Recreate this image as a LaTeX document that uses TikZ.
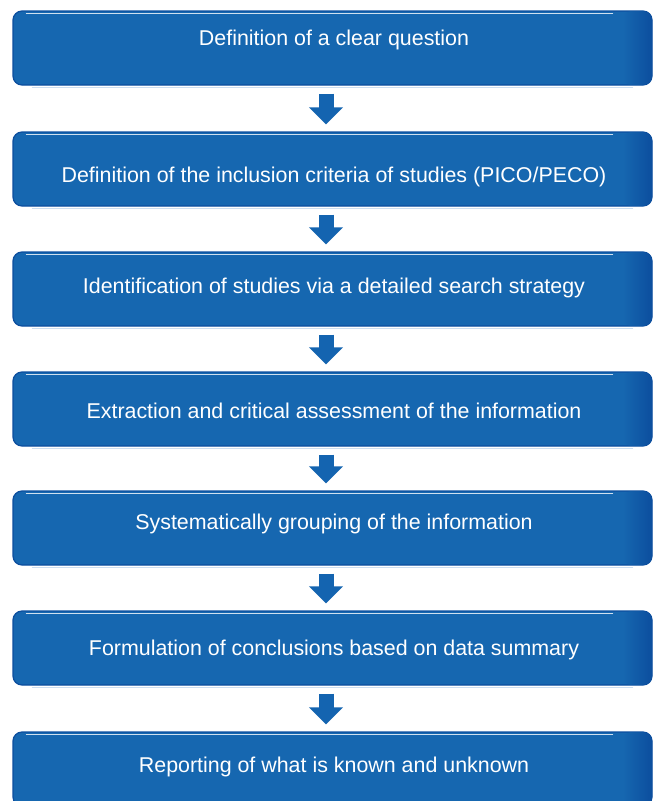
\documentclass[tikz,border=0pt]{standalone}
\usepackage{fontspec}
\setmainfont{Liberation Sans}
\usetikzlibrary{arrows.meta}
\definecolor{boxblue}{RGB}{22,103,176}
\definecolor{edgeblue}{RGB}{12,78,158}
\definecolor{arrowblue}{RGB}{20,100,176}
\definecolor{glowblue}{RGB}{170,200,230}
\tikzset{
  stepbox/.style={rounded corners=9pt, minimum width=639pt, minimum height=74pt,
    inner sep=0pt, fill=boxblue, draw=edgeblue, line width=1.2pt},
  steptext/.style={text=white, font=\fontsize{21.4}{25}\selectfont, inner sep=0pt, anchor=base},
  flow/.style={draw=arrowblue, line width=15pt,
    -{Triangle[width=33pt,length=17pt]}, shorten <=8pt, shorten >=7pt},
}
\newcommand{\gloss}[1]{%
  % darker rounded right end, fading in from the body colour
  \shade[left color=boxblue, right color=edgeblue, rounded corners=8pt]
    ([xshift=-30pt,yshift=-1pt]#1.north east) rectangle ([xshift=-0.6pt,yshift=1pt]#1.south east);
  % light rim along the top edge and a soft glow under the bottom edge
  \draw[white, opacity=0.8, line width=0.9pt, line cap=round]
    ([xshift=14pt,yshift=-3pt]#1.north west) -- ([xshift=-40pt,yshift=-3pt]#1.north east);
  \draw[glowblue, opacity=0.6, line width=1.2pt, line cap=round]
    ([xshift=20pt,yshift=-2pt]#1.south west) -- ([xshift=-20pt,yshift=-2pt]#1.south east);
}
\begin{document}
\begin{tikzpicture}[x=1pt,y=-1pt]
\useasboundingbox (0,0) rectangle (654,801);
\clip (0,0) rectangle (654,801);
% the seven steps
\node[stepbox] (b1) at (332.5,48) {};
\node[stepbox] (b2) at (332.5,169) {};
\node[stepbox] (b3) at (332.5,289) {};
\node[stepbox] (b4) at (332.5,409) {};
\node[stepbox] (b5) at (332.5,528) {};
\node[stepbox] (b6) at (332.5,648) {};
\node[stepbox] (b7) at (332.5,769) {};
\foreach \b in {b1,b2,b3,b4,b5,b6,b7} {\gloss{\b}}
% step labels
\node[steptext] (t1) at (334,45) {Definition of a clear question};
\node[steptext] (t2) at (334,182) {Definition of the inclusion criteria of studies (PICO/PECO)};
\node[steptext] (t3) at (334,293) {Identification of studies via a detailed search strategy};
\node[steptext] (t4) at (334,418) {Extraction and critical assessment of the information};
\node[steptext] (t5) at (334,529) {Systematically grouping of the information};
\node[steptext] (t6) at (334,655) {Formulation of conclusions based on data summary};
\node[steptext] (t7) at (334,772) {Reporting of what is known and unknown};
% arrows between consecutive steps
\foreach \a/\b in {b1/b2,b2/b3,b3/b4,b4/b5,b5/b6,b6/b7}
  \draw[flow] ([xshift=-6.5pt]\a.south) -- ([xshift=-6.5pt]\b.north);
\end{tikzpicture}
\end{document}
